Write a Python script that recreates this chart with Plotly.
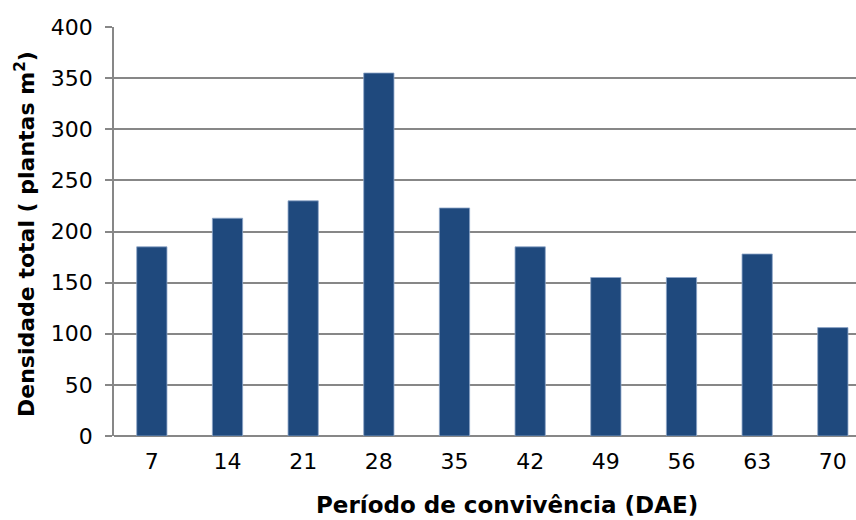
import plotly.graph_objects as go

categories = ["7", "14", "21", "28", "35", "42", "49", "56", "63", "70"]
densidade = [185, 213, 230, 355, 223, 185, 155, 155, 178, 106]
y_ticks = [0, 50, 100, 150, 200, 250, 300, 350, 400]

FONT = "DejaVu Sans, Liberation Sans, Arial, sans-serif"

fig = go.Figure()
fig.add_trace(go.Bar(
    x=categories, y=densidade,
    marker=dict(color="#1F497D", line=dict(color="#8EA6C8", width=0.8)),
    width=0.4,
))

fig.update_layout(
    width=856, height=520,
    margin=dict(l=114, r=0, t=27, b=84),
    paper_bgcolor="white", plot_bgcolor="white",
    showlegend=False,
    font=dict(family=FONT, color="#000000"),
    xaxis=dict(
        type="category",
        range=[-0.5, 9.306],
        showgrid=False,
        showline=False,
        ticks="",
        tickfont=dict(size=22),
        ticklabelstandoff=10,
    ),
    yaxis=dict(
        range=[0, 400],
        tickvals=y_ticks,
        showgrid=True, gridcolor="#878787", gridwidth=1.5,
        showline=True, linecolor="#878787", linewidth=1.5,
        ticks="outside", ticklen=7, tickcolor="#878787", tickwidth=1.5,
        tickfont=dict(size=22),
        ticklabelstandoff=8,
        zeroline=True, zerolinecolor="#878787", zerolinewidth=1.5,
    ),
    annotations=[
        dict(text="<b>Período de convivência (DAE)</b>", xref="paper", yref="paper",
             x=(507 - 114) / 742, y=-(505 - 436) / 409, xanchor="center", yanchor="middle",
             showarrow=False, font=dict(size=23)),
        dict(text="<b>Densidade total ( plantas m<sup>2</sup>)</b>", xref="paper", yref="paper",
             x=-(114 - 25) / 742, y=(436 - 234) / 409, xanchor="center", yanchor="middle",
             textangle=-90, showarrow=False, font=dict(size=22)),
    ],
)

fig.write_html("out.html")
